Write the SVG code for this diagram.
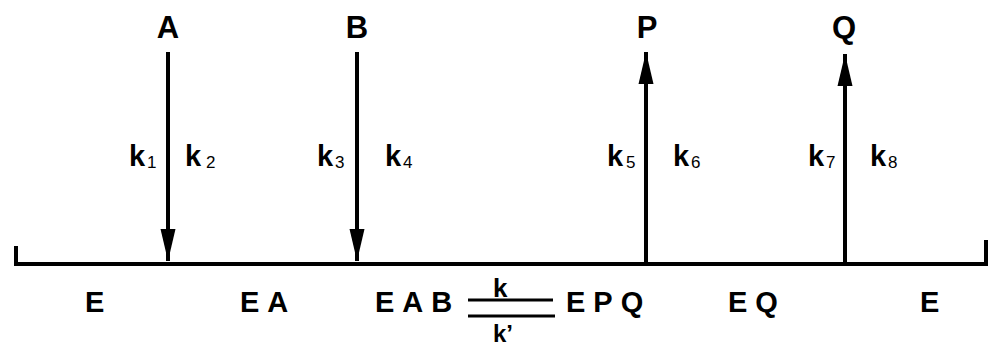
<svg xmlns="http://www.w3.org/2000/svg" width="988" height="347" viewBox="0 0 988 347">
<style>
.lbl{font-family:"Liberation Sans",Arial,sans-serif;font-weight:bold;fill:#000}
.top{font-size:31px;text-anchor:middle}
.k{font-size:29px}
.sub{font-family:"Liberation Sans",Arial,sans-serif;font-size:17px;fill:#000}
.sp{font-size:29px;letter-spacing:8px}
.ln{stroke:#000;stroke-width:4;fill:none}
</style>
<defs>
<marker id="head" viewBox="0 -8 32 16" refX="32" refY="0" markerWidth="32" markerHeight="16" markerUnits="userSpaceOnUse" orient="auto">
<path d="M0,-7.5 L32,0 L0,7.5 Z" fill="#000"/>
</marker>
</defs>
<g id="connectors">
<path class="ln" d="M16,246 V264 H986 V240"/>
<line class="ln" x1="168" y1="52" x2="168" y2="261" marker-end="url(#head)"/>
<line class="ln" x1="357" y1="52" x2="357" y2="261" marker-end="url(#head)"/>
<line class="ln" x1="646" y1="263" x2="646" y2="52" marker-end="url(#head)"/>
<line class="ln" x1="845" y1="263" x2="845" y2="54" marker-end="url(#head)"/>
<line x1="468" y1="300" x2="553" y2="300" stroke="#000" stroke-width="3"/>
<line x1="468" y1="316" x2="555" y2="316" stroke="#000" stroke-width="3"/>
</g>
<g id="node-A"><text class="lbl top" x="168" y="38">A</text></g>
<g id="node-B"><text class="lbl top" x="357" y="38">B</text></g>
<g id="node-P"><text class="lbl top" x="647" y="38">P</text></g>
<g id="node-Q"><text class="lbl top" x="844" y="38">Q</text></g>
<g id="k1"><text class="lbl k" x="129" y="166">k</text><text class="sub" x="147" y="168">1</text></g>
<g id="k2"><text class="lbl k" x="185" y="166">k</text><text class="sub" x="206" y="168">2</text></g>
<g id="k3"><text class="lbl k" x="317" y="166">k</text><text class="sub" x="335" y="168">3</text></g>
<g id="k4"><text class="lbl k" x="385" y="166">k</text><text class="sub" x="403" y="168">4</text></g>
<g id="k5"><text class="lbl k" x="607" y="166">k</text><text class="sub" x="626" y="168">5</text></g>
<g id="k6"><text class="lbl k" x="673" y="166">k</text><text class="sub" x="691" y="168">6</text></g>
<g id="k7"><text class="lbl k" x="808" y="166">k</text><text class="sub" x="826" y="168">7</text></g>
<g id="k8"><text class="lbl k" x="870" y="166">k</text><text class="sub" x="888" y="168">8</text></g>
<g id="state-E1"><text class="lbl sp" x="85" y="312">E</text></g>
<g id="state-EA"><text class="lbl sp" x="240" y="312">EA</text></g>
<g id="state-EAB"><text class="lbl sp" x="375" y="312">EAB</text></g>
<g id="state-EPQ"><text class="lbl sp" x="566" y="312">EPQ</text></g>
<g id="state-EQ"><text class="lbl sp" x="728" y="312">EQ</text></g>
<g id="state-E2"><text class="lbl sp" x="920" y="312">E</text></g>
<g id="rate-k"><text class="lbl" x="493" y="297" font-size="26">k</text></g>
<g id="rate-kprime"><text class="lbl" x="493" y="342" font-size="24">k’</text></g>
</svg>
